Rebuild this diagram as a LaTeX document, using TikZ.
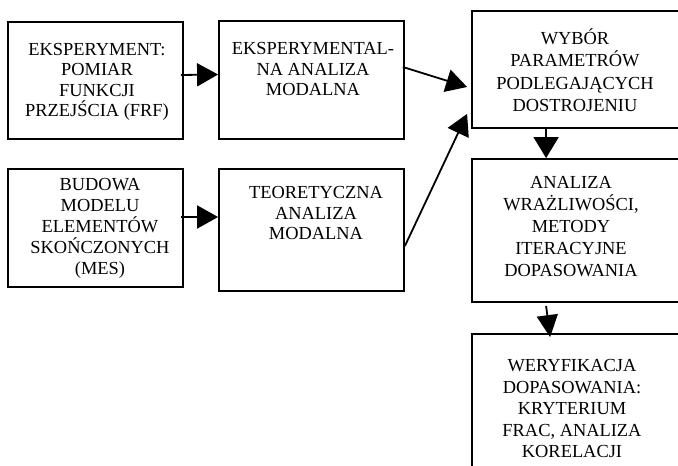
\documentclass[tikz,border=0pt]{standalone}
\usepackage{fontspec}
\setmainfont{Liberation Serif}
\usetikzlibrary{arrows.meta}
\newcommand{\fst}{\rule{0pt}{13pt}}
\tikzset{
  box/.style={draw=black, line width=1.8pt, rectangle, inner sep=0pt},
  txt/.style={anchor=north, align=center, inner sep=0pt},
  arr/.style={line width=1.8pt, -{Triangle[length=21pt,width=23pt]}}
}
\begin{document}
\begin{tikzpicture}[x=1pt,y=-1pt]
\clip (0,0) rectangle (678,466);
\fill[white] (0,0) rectangle (678,466);
% boxes
\node[box, minimum width=175pt, minimum height=117pt] (b1) at (95.5,80.5) {};
\node[box, minimum width=185pt, minimum height=118pt] (b2) at (311.5,80) {};
\node[box, minimum width=175pt, minimum height=118pt] (b3) at (95.5,228) {};
\node[box, minimum width=185pt, minimum height=122pt] (b4) at (311.5,230) {};
\node[box, minimum width=218pt, minimum height=117pt] (b5) at (581,69.5) {};
\node[box, minimum width=218pt, minimum height=143pt] (b6) at (581,230.5) {};
\node[box, minimum width=218pt, minimum height=166pt] (b7) at (581,417) {};
% texts
\node[txt, font={\fontsize{18.4}{20.3}\selectfont}] (t1) at (97,42.3) {\fst EKSPERYMENT:\\POMIAR\\FUNKCJI\\PRZEJŚCIA (FRF)};
\node[txt, font={\fontsize{18.4}{20.3}\selectfont}] (t2) at (313,41.7) {\fst EKSPERYMENTAL-\\NA ANALIZA\\MODALNA};
\node[txt, font={\fontsize{18.4}{21}\selectfont}] (t3) at (100,177.3) {\fst BUDOWA\\MODELU\\ELEMENTÓW\\SKOŃCZONYCH\\(MES)};
\node[txt, font={\fontsize{18.4}{20.3}\selectfont}] (t4) at (316,185.7) {\fst TEORETYCZNA\\ANALIZA\\MODALNA};
\node[txt, font={\fontsize{18.4}{22.4}\selectfont}] (t5) at (575,28.3) {\fst WYBÓR\\PARAMETRÓW\\PODLEGAJĄCYCH\\DOSTROJENIU};
\node[txt, font={\fontsize{18.4}{22}\selectfont}] (t6) at (571,175.7) {\fst ANALIZA\\WRAŻLIWOŚCI,\\METODY\\ITERACYJNE\\DOPASOWANIA};
\node[txt, font={\fontsize{18.4}{21.6}\selectfont}] (t7) at (572,358.3) {\fst WERYFIKACJA\\DOPASOWANIA:\\KRYTERIUM\\FRAC, ANALIZA\\KORELACJI};
% connectors
\draw[arr] ([xshift=-3pt,yshift=5.5pt]b1.east) -- ([yshift=5.5pt]b2.west);
\draw[arr] ([xshift=-3pt,yshift=11pt]b3.east) -- ([yshift=13pt]b4.west);
\draw[arr] ([xshift=-2pt,yshift=13pt]b2.east) -- ([xshift=-4pt,yshift=-17.5pt]b5.west);
\draw[arr] ([yshift=-16pt]b4.east) -- ([xshift=-4pt,yshift=15pt]b5.south west);
\draw[arr, -{Triangle[length=21pt,width=25pt]}] ([xshift=75pt]b5.south west) -- ([xshift=75pt]b6.north west);
\draw[arr, -{Triangle[length=22pt,width=21pt]}] ([xshift=75pt,yshift=-3pt]b6.south west) -- ([xshift=79pt,yshift=-4pt]b7.north west);
\end{tikzpicture}
\end{document}
